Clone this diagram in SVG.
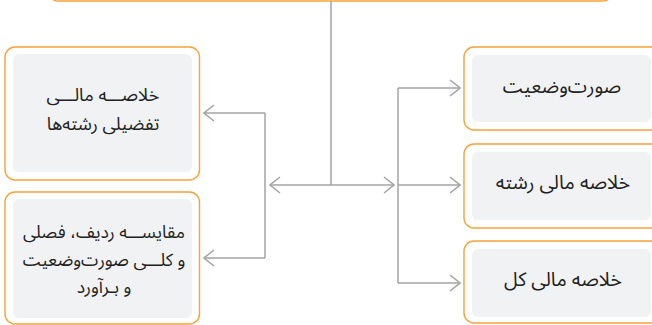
<svg xmlns="http://www.w3.org/2000/svg" width="652" height="325" viewBox="0 0 652 325">
<defs>
<style>
.outer{fill:#ffffff;stroke:#f7a13a;stroke-width:1.4}
.inner{fill:#f1f2f4}
.conn{fill:none;stroke:#a3a3a3;stroke-width:1.5}
.lbl{font-family:"Noto Sans Arabic","DejaVu Sans",sans-serif;font-size:19.5px;fill:#222;text-anchor:middle;direction:rtl}
.sm{font-size:18px}
.xs{font-size:17.5px}
</style>
<marker id="arr" viewBox="0 0 12 18" refX="11" refY="9" markerWidth="12" markerHeight="18" markerUnits="userSpaceOnUse" orient="auto">
<path d="M1,1 L11,9 L1,17" fill="none" stroke="#a3a3a3" stroke-width="1.5"/>
</marker>
</defs>
<rect width="652" height="325" fill="#ffffff"/>
<g id="top">
<rect class="outer" x="48" y="-60" width="565" height="61" rx="10"/>
</g>
<g id="n-left1">
<rect class="outer" x="5" y="47" width="194.5" height="133" rx="10"/>
<rect class="inner" x="13" y="54" width="179" height="118" rx="6"/>
<text class="lbl sm" x="103" y="101">خلاصـــه مالـــی</text>
<text class="lbl sm" x="103" y="130">تفضیلی رشته‌ها</text>
</g>
<g id="n-left2">
<rect class="outer" x="5" y="192" width="194.5" height="132" rx="10"/>
<rect class="inner" x="13" y="199" width="179" height="119" rx="6"/>
<text class="lbl xs" x="104" y="238">مقایســـه ردیف، فصلی</text>
<text class="lbl xs" x="104" y="266">و کلـــی صورت‌وضعیت</text>
<text class="lbl xs" x="104" y="293">و بـرآورد</text>
</g>
<g id="n-right1">
<rect class="outer" x="464" y="47" width="200" height="83" rx="10"/>
<rect class="inner" x="472" y="55" width="179" height="67" rx="6"/>
<text class="lbl" x="562" y="93">صورت‌وضعیت</text>
</g>
<g id="n-right2">
<rect class="outer" x="464" y="144" width="200" height="84" rx="10"/>
<rect class="inner" x="472" y="152" width="179" height="68" rx="6"/>
<text class="lbl" x="563" y="189">خلاصه مالی رشته</text>
</g>
<g id="n-right3">
<rect class="outer" x="464" y="241" width="200" height="82" rx="10"/>
<rect class="inner" x="472" y="249" width="179" height="68" rx="6"/>
<text class="lbl" x="563" y="286">خلاصه مالی کل</text>
</g>
<g id="connectors">
<path class="conn" d="M331,1 V185"/>
<path class="conn" d="M331,185 H270" marker-end="url(#arr)"/>
<path class="conn" d="M331,185 H394" marker-end="url(#arr)"/>
<path class="conn" d="M265,113 V258"/>
<path class="conn" d="M265,113 H204" marker-end="url(#arr)"/>
<path class="conn" d="M265,258 H204" marker-end="url(#arr)"/>
<path class="conn" d="M398,88 V283"/>
<path class="conn" d="M398,88 H460" marker-end="url(#arr)"/>
<path class="conn" d="M398,185 H460" marker-end="url(#arr)"/>
<path class="conn" d="M398,283 H460" marker-end="url(#arr)"/>
</g>
</svg>
